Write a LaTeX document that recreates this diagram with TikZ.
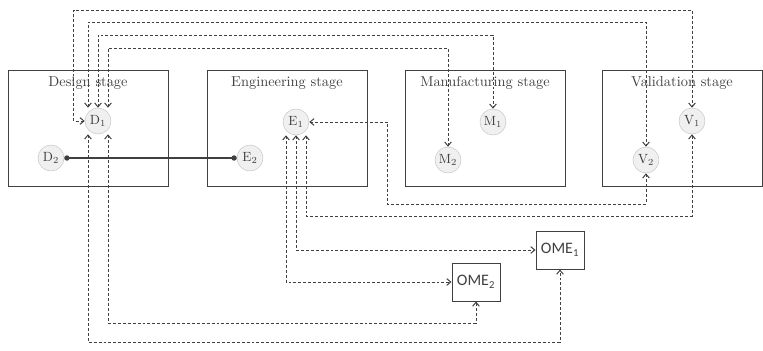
\documentclass[tikz,border=0pt]{standalone}
\usepackage{fontspec}
\newfontfamily\omefont{Carlito}
\usetikzlibrary{positioning,arrows.meta}
\definecolor{ink}{HTML}{404040}
\definecolor{nodefill}{HTML}{F0F0F0}
\definecolor{nodeedge}{HTML}{C8C8C8}

\begin{document}
\begin{tikzpicture}[
  x=0.75pt, y=-0.75pt,
  stage/.style={
    draw=ink, rectangle, line width=0.75pt,
    minimum width=120pt, minimum height=87pt, inner sep=0pt
  },
  stitle/.style={font=\fontsize{10.8}{12}\selectfont, text=ink, inner sep=0pt},
  elem/.style={
    circle, draw=nodeedge, fill=nodefill, minimum size=19.5pt,
    inner sep=0pt, font=\normalsize, text=ink
  },
  ome/.style={
    draw=ink, rectangle, line width=0.7pt,
    minimum width=36pt, minimum height=28.5pt,
    inner sep=2pt, font=\omefont\large, text=ink
  },
  link/.style={<->, >={Straight Barb[length=3pt, width=5pt]}, ink,
    dash pattern=on 2.2pt off 1.5pt, line width=0.75pt},
  tie/.style={{Circle[length=4pt]}-{Circle[length=4pt]}, ink, line width=0.8pt}
]
\useasboundingbox (0,0) rectangle (763,350);

%% ── Stages ───────────────────────────────────────────────────
\node[stage] (ds) at (88,128)  {};
\node[stage] (es) at (287,128) {};
\node[stage] (ms) at (485,128) {};
\node[stage] (vs) at (682,128) {};

\node[stitle, below=5pt of ds.north] (dst) {Design stage};
\node[stitle, below=5pt of es.north] (est) {Engineering stage};
\node[stitle, below=5pt of ms.north] (mst) {Manufacturing stage};
\node[stitle, below=5pt of vs.north] (vst) {Validation stage};

%% ── Elements ─────────────────────────────────────────────────
\node[elem] (D1) at (98,121)  {$\mathrm{D}_1$};
\node[elem] (D2) at (51,158)  {$\mathrm{D}_2$};
\node[elem] (E1) at (296,122) {$\mathrm{E}_1$};
\node[elem] (E2) at (250,158) {$\mathrm{E}_2$};
\node[elem] (M1) at (493,122) {$\mathrm{M}_1$};
\node[elem] (M2) at (448,160) {$\mathrm{M}_2$};
\node[elem] (V1) at (692,121) {$\mathrm{V}_1$};
\node[elem] (V2) at (646,160) {$\mathrm{V}_2$};

\node[ome] (OME1) at (560,250) {OME\textsubscript{1}};
\node[ome] (OME2) at (476,282) {OME\textsubscript{2}};

%% ── Routing levels ───────────────────────────────────────────
\coordinate (lv1) at (0,10);
\coordinate (lv2) at (0,22);
\coordinate (lv3) at (0,35);
\coordinate (lv4) at (0,48);
\coordinate (le3) at (0,216);
\coordinate (le4) at (387,204);
\coordinate (lb1) at (0,342);
\coordinate (lb2) at (0,323);

%% ── Design links ─────────────────────────────────────────────
\draw[tie] (D2.east) -- (E2.west);

\draw[link] (D1.west) -- ++(-11,0) |- (V1 |- lv1) -- (V1.north);
\draw[link] ([xshift=-7.5pt]D1.north) |- (V2 |- lv2) -- (V2.north);
\draw[link] (D1.north) |- (M1 |- lv3) -- (M1.north);
\draw[link] ([xshift=7.5pt]D1.north) |- (M2 |- lv4) -- (M2.north);

\draw[link] ([xshift=-7.5pt]D1.south) |- (OME1 |- lb1) -- (OME1.south);
\draw[link] ([xshift=7.5pt]D1.south) |- (OME2 |- lb2) -- (OME2.south);

%% ── Engineering links ────────────────────────────────────────
\draw[link] ([xshift=-7.5pt]E1.south) |- (OME2.west);
\draw[link] (E1.south) |- (OME1.west);
\draw[link] ([xshift=7.5pt]E1.south) |- (V1 |- le3) -- (V1.south);
\draw[link] (E1.east) -| (le4) -| (V2.south);

\end{tikzpicture}
\end{document}
